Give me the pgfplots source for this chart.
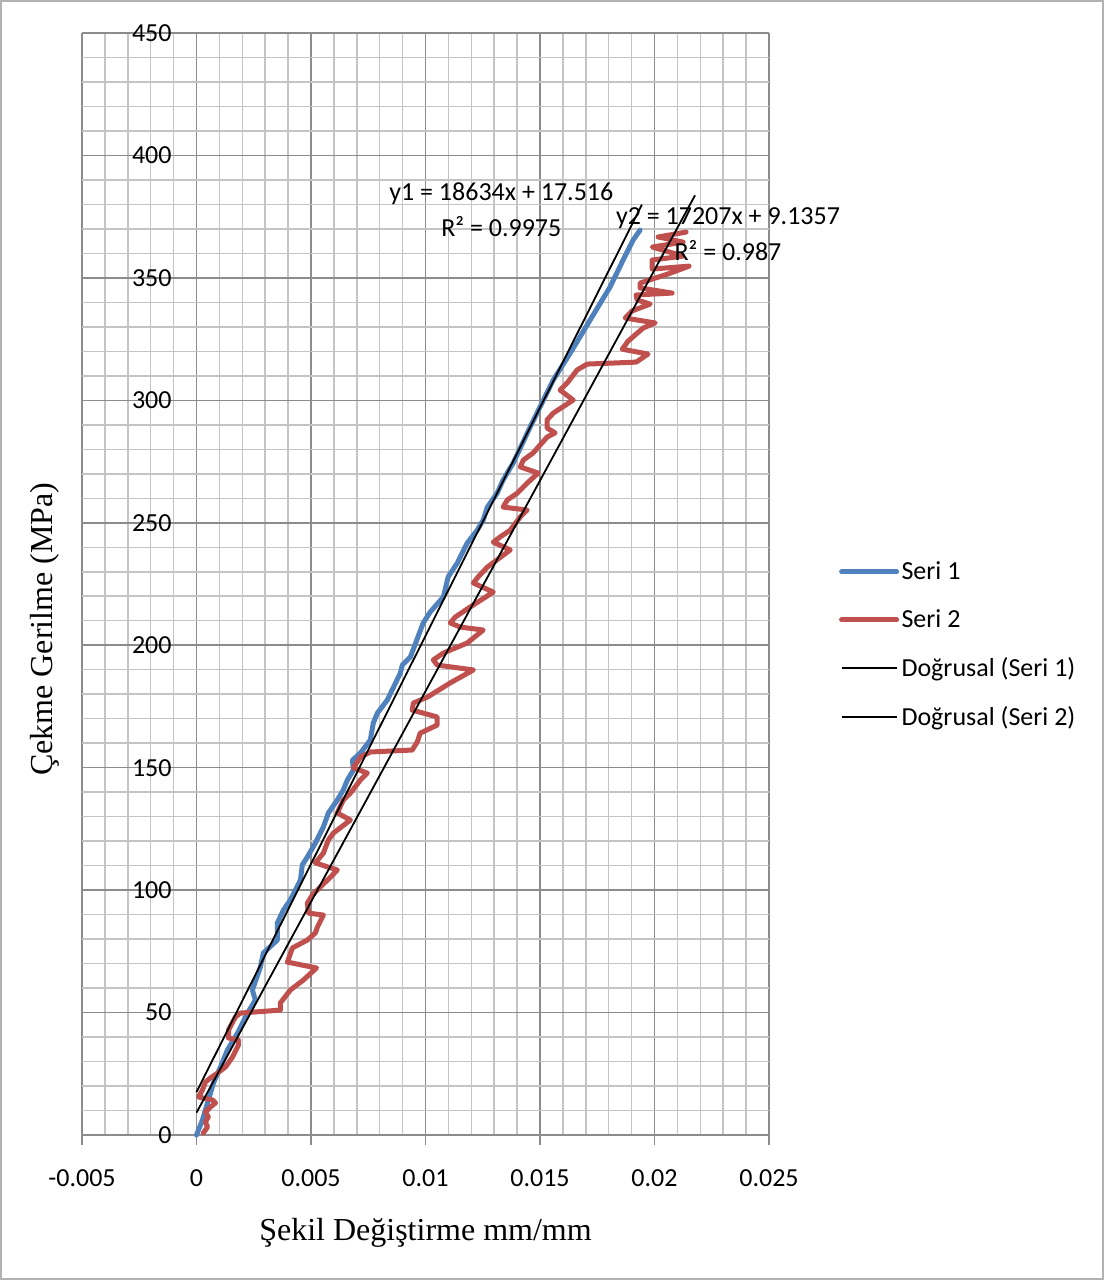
\documentclass[border=0pt]{standalone}
\usepackage{fontspec}
\setmainfont{Liberation Serif}
\newfontfamily\calibri{Carlito}
\usepackage{pgfplots}
\pgfplotsset{compat=1.18}
\definecolor{s1}{HTML}{4F81BD}
\definecolor{s2}{HTML}{C0504D}
\definecolor{majgrid}{HTML}{8C8C8C}
\definecolor{mingrid}{HTML}{C4C4C4}
\newcommand{\cf}{\calibri\fontsize{13}{15}\selectfont}
\begin{document}
\begin{tikzpicture}
\useasboundingbox (0,0) rectangle (552pt,640pt);
\draw[gray!60, line width=0.8pt] (0.4pt,0.4pt) rectangle (551.6pt,639.6pt);
\begin{axis}[
  at={(41pt,72.5pt)}, anchor=south west,
  scale only axis, width=343.5pt, height=551pt,
  clip=false,
  xmin=-0.005, xmax=0.025, ymin=0, ymax=450,
  xtick={-0.005,0,0.005,0.01,0.015,0.02,0.025},
  xticklabels={{-0.005},{0},{0.005},{0.01},{0.015},{0.02},{0.025}},
  ytick={0,50,100,150,200,250,300,350,400,450},
  scaled x ticks=false, scaled y ticks=false,
  minor x tick num=4, minor y tick num=4,
  grid=both,
  major grid style={draw=majgrid, line width=0.75pt},
  minor grid style={draw=mingrid, line width=0.75pt},
  axis line style={draw=none},
  tick align=outside,
  xtick pos=left,
  major tick length=5pt, minor tick length=0pt,
  xtick style={draw=majgrid, line width=0.75pt},
  ytick style={draw=none},
  tick label style={font=\cf},
  /pgf/number format/assume math mode=true,
  yticklabel style={anchor=east, xshift=53.3pt},
  xticklabel style={yshift=-9pt},
  xlabel={Şekil Değiştirme mm/mm},
  ylabel={Çekme Gerilme (MPa)},
  every axis x label/.style={at={(axis description cs:0.5,-0.0889)}, anchor=center, font=\fontsize{16}{19}\selectfont},
  every axis y label/.style={at={(axis description cs:-0.0545,0.459)}, anchor=center, rotate=90, font=\fontsize{16}{19}\selectfont},
  legend style={at={(axis description cs:1.1015,0.4447)}, anchor=west, draw=none, fill=none, font=\cf, row sep=9.5pt, inner sep=0pt, nodes={inner xsep=1.2pt}},
  legend cell align=left,
  legend image code/.code={\draw[#1] (0pt,0pt) -- (27.5pt,0pt);},
]
\addplot[s1, line width=2.5pt, line cap=round, line join=round] coordinates {
(0,0) (0.00026,6.1) (0.00052,14.3) (0.00074,21.2) (0.00105,27.8) (0.00135,34.7)
(0.00179,41.6) (0.00223,49.8) (0.00257,55.1) (0.00244,59.2) (0.00279,68.6)
(0.00292,74.3) (0.00353,79.6) (0.00353,86.6) (0.00380,91.9) (0.00410,96.0)
(0.00454,104.1) (0.00462,110.3) (0.00484,113.5) (0.00519,119.2) (0.00554,125.8)
(0.00576,131.5) (0.00615,136.8) (0.00641,140.9) (0.00659,145.0) (0.00685,149.0)
(0.00681,153.1) (0.00716,156.0) (0.00759,161.3) (0.00772,168.2) (0.00790,172.3)
(0.00833,177.6) (0.00890,188.6) (0.00899,191.9) (0.00934,195.2) (0.00990,209.1)
(0.01021,213.6) (0.01078,219.7) (0.01099,227.9) (0.01139,233.6) (0.01182,241.7)
(0.01226,247.0) (0.01252,251.1) (0.01270,256.4) (0.01313,262.1) (0.01339,267.5)
(0.01383,274.4) (0.01457,289.1) (0.01558,308.3) (0.01632,319.3) (0.01719,332.8)
(0.01806,346.3) (0.01863,357.3) (0.01907,365.5) (0.01937,369.5)
};
\addlegendentry{Seri 1}
\addplot[s2, line width=2.5pt, line cap=round, line join=round] coordinates {
(0.00030,0.8) (0.00048,3.3) (0.00039,5.3) (0.00052,7.4) (0.00039,9.4) (0.00061,11.4)
(0.00083,13.1) (0.00070,14.3) (0.00009,15.5) (0.00026,18.4) (0.00039,21.6)
(0.00061,23.3) (0.00092,25.3) (0.00127,27.8) (0.00157,31.8) (0.00183,36.7)
(0.00183,38.8) (0.00140,39.6) (0.00140,42.9) (0.00170,48.2) (0.00192,49.8)
(0.00366,51.0) (0.00366,53.9) (0.00410,59.2) (0.00467,63.3) (0.00524,68.2)
(0.00397,70.6) (0.00419,76.4) (0.00484,79.6) (0.00519,82.5) (0.00528,84.9)
(0.00554,89.8) (0.00489,90.6) (0.00484,94.7) (0.00506,98.0) (0.00541,101.3)
(0.00585,105.3) (0.00615,108.2) (0.00519,111.1) (0.00554,115.1) (0.00576,120.5)
(0.00598,123.3) (0.00672,128.6) (0.00615,131.5) (0.00641,136.8) (0.00672,139.6)
(0.00716,145.0) (0.00746,147.8) (0.00685,149.9) (0.00716,154.3) (0.00759,156.4)
(0.00942,157.2) (0.00964,160.5) (0.00977,164.1) (0.01051,167.4) (0.01051,170.7)
(0.00942,173.5) (0.00947,176.4) (0.01008,178.8) (0.01108,184.6) (0.01209,189.9)
(0.01051,191.9) (0.01034,194.0) (0.01078,196.8) (0.01182,200.9) (0.01252,206.2)
(0.01152,207.4) (0.01108,209.1) (0.01130,211.5) (0.01195,215.6) (0.01296,221.7)
(0.01209,225.4) (0.01230,227.9) (0.01270,231.9) (0.01370,238.9) (0.01296,242.1)
(0.01326,244.2) (0.01370,247.0) (0.01414,252.4) (0.01444,255.2) (0.01339,256.4)
(0.01357,259.3) (0.01401,262.1) (0.01444,266.2) (0.01492,270.3) (0.01414,272.8)
(0.01427,275.6) (0.01470,278.5) (0.01531,285.0) (0.01566,286.7) (0.01531,288.7)
(0.01531,292.0) (0.01558,294.8) (0.01645,300.1) (0.01588,304.2) (0.01619,307.1)
(0.01662,312.4) (0.01706,314.8) (0.01920,315.6) (0.01972,318.9) (0.01859,320.9)
(0.01885,324.2) (0.01950,329.5) (0.02003,331.6) (0.01872,333.6) (0.01902,336.5)
(0.01981,339.3) (0.01924,341.0) (0.01920,343.0) (0.02077,343.8) (0.01937,345.9)
(0.01937,347.9) (0.02059,351.6) (0.02151,354.8) (0.01990,353.6) (0.01990,357.3)
(0.02125,358.9) (0.01990,362.6) (0.02125,364.6) (0.02016,366.7) (0.02138,368.7)
};
\addlegendentry{Seri 2}
\addplot[black, line width=0.9pt] coordinates {(0,17.516) (0.01945,379.9)};
\addlegendentry{Doğrusal (Seri 1)}
\addplot[black, line width=0.9pt] coordinates {(0,9.1357) (0.02177,383.7)};
\addlegendentry{Doğrusal (Seri 2)}
\node[font=\cf, anchor=center] at (axis cs:0.01331,384.2) {y1 = 18634x + 17.516};
\node[font=\cf, anchor=center] at (axis cs:0.01331,370.8) {R² = 0.9975};
\node[font=\cf, anchor=center] at (axis cs:0.02321,374.4) {y2 = 17207x + 9.1357};
\node[font=\cf, anchor=center] at (axis cs:0.02321,361.0) {R² = 0.987};
\end{axis}
\end{tikzpicture}
\end{document}
